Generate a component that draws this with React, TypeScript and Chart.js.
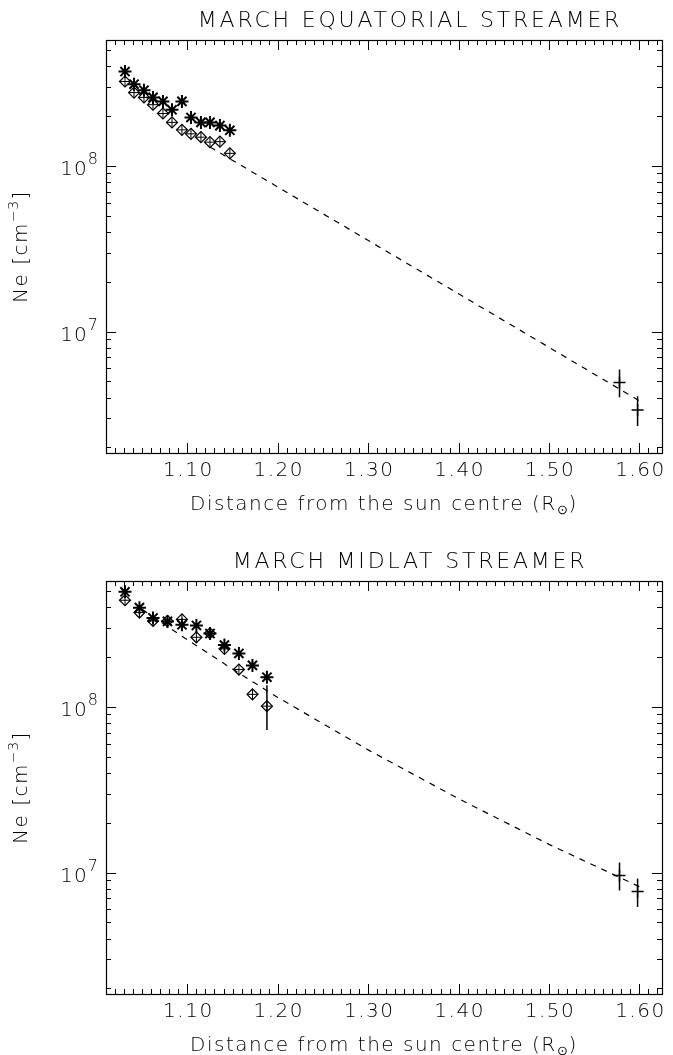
import React, { useEffect, useRef } from "react";
import { Chart, registerables } from "chart.js";
Chart.register(...registerables);

// ---------- shared axis definitions ----------
const X_MIN = 1.01;
const X_MAX = 1.625;
const Y_MIN = 1.85e6;
const Y_MAX = 5.75e8;
const X_TICK_VALUES = [1.1, 1.2, 1.3, 1.4, 1.5, 1.6];
const X_TICK_LABELS = ["1.10", "1.20", "1.30", "1.40", "1.50", "1.60"];
const Y_TICK_VALUES = [1e7, 1e8];
const Y_TICK_EXPONENTS = ["7", "8"];

// ---------- top panel: March equatorial streamer ----------
const eqX = [1.031, 1.041, 1.052, 1.062, 1.073, 1.083, 1.094, 1.104, 1.115, 1.125, 1.136, 1.147];
const eqStarY = [3.71e8, 3.11e8, 2.86e8, 2.59e8, 2.45e8, 2.18e8, 2.45e8, 1.96e8, 1.83e8, 1.83e8, 1.75e8, 1.64e8];
const eqDiamondY = [3.23e8, 2.77e8, 2.59e8, 2.34e8, 2.07e8, 1.83e8, 1.65e8, 1.56e8, 1.49e8, 1.39e8, 1.4e8, 1.19e8];
const eqFitX = [1.125, 1.4, 1.6];
const eqFitY = [1.3e8, 1.69e7, 3.82e6];
const eqCrossX = [1.578, 1.598];
const eqCrossY = [4.93e6, 3.36e6];
const eqCrossLo = [4.01e6, 2.69e6];
const eqCrossHi = [5.9e6, 4.07e6];

// ---------- bottom panel: March midlatitude streamer ----------
const mlX = [1.031, 1.047, 1.062, 1.078, 1.094, 1.11, 1.125, 1.141, 1.157, 1.172, 1.188];
const mlStarY = [4.95e8, 3.97e8, 3.44e8, 3.28e8, 3.13e8, 3.1e8, 2.77e8, 2.36e8, 2.1e8, 1.78e8, 1.51e8];
const mlDiamondY = [4.4e8, 3.71e8, 3.3e8, 3.3e8, 3.37e8, 2.63e8, 2.78e8, 2.24e8, 1.68e8, 1.19e8, 1.01e8];
const mlDiamondErrX = [1.188];
const mlDiamondErrLo = [7.25e7];
const mlDiamondErrHi = [1.35e8];
const mlFitX = [1.05, 1.1, 1.15, 1.2, 1.3, 1.4, 1.5, 1.6];
const mlFitY = [3.88e8, 2.54e8, 1.69e8, 1.14e8, 5.5e7, 2.79e7, 1.48e7, 8.22e6];
const mlCrossX = [1.578, 1.598];
const mlCrossY = [9.6e6, 7.7e6];
const mlCrossLo = [7.8e6, 6.2e6];
const mlCrossHi = [1.15e7, 9.2e6];

const FONT = '"DejaVu Sans"';
const W = 200;

const pts = (xs: number[], ys: number[]) => xs.map((x, i) => ({ x, y: ys[i] }));

function errorBars(xs: number[], lo: number[], hi: number[]) {
  return xs.map((x, i) => ({
    data: [
      { x, y: lo[i] },
      { x, y: hi[i] },
    ],
    showLine: true,
    pointRadius: 0,
    borderColor: "#000",
    borderWidth: 1.5,
  }));
}

function setFont(ctx: any, size: number, spacing: number) {
  ctx.font = `${W} ${size}px ${FONT}`;
  ctx.letterSpacing = `${spacing}px`;
}

const framePlugin = {
  id: "idlFrame",
  afterDraw(chart: any, _args: any, opts: any) {
    const { ctx, chartArea: a } = chart;
    const xs = chart.scales.x;
    const ys = chart.scales.y;
    ctx.save();
    ctx.strokeStyle = "#000";
    ctx.lineWidth = 1.2;
    ctx.strokeRect(a.left + 0.5, a.top + 0.5, a.right - a.left, a.bottom - a.top);
    ctx.lineWidth = 1;
    ctx.beginPath();
    // x ticks (minor every 0.01)
    for (let i = 101; i <= 162; i++) {
      const v = i / 100;
      if (v < X_MIN || v > X_MAX) continue;
      const px = Math.round(xs.getPixelForValue(v)) + 0.5;
      const len = i % 10 === 0 ? 10 : 5;
      ctx.moveTo(px, a.bottom);
      ctx.lineTo(px, a.bottom - len);
      ctx.moveTo(px, a.top);
      ctx.lineTo(px, a.top + len);
    }
    // y ticks (log)
    for (let d = 6; d <= 8; d++) {
      for (let m = 1; m <= 9; m++) {
        const v = m * Math.pow(10, d);
        if (v < Y_MIN || v > Y_MAX) continue;
        const py = Math.round(ys.getPixelForValue(v)) + 0.5;
        const len = m === 1 ? 10 : 5;
        ctx.moveTo(a.left, py);
        ctx.lineTo(a.left + len, py);
        ctx.moveTo(a.right, py);
        ctx.lineTo(a.right - len, py);
      }
    }
    ctx.stroke();

    ctx.fillStyle = "#000";
    // x tick labels
    setFont(ctx, 20, 1.5);
    ctx.textAlign = "center";
    ctx.textBaseline = "middle";
    X_TICK_VALUES.forEach((v, i) => {
      ctx.fillText(X_TICK_LABELS[i], xs.getPixelForValue(v) + 1, a.bottom + 18);
    });
    // y tick labels 10^n
    Y_TICK_VALUES.forEach((v, i) => {
      const py = ys.getPixelForValue(v);
      ctx.textBaseline = "alphabetic";
      ctx.textAlign = "right";
      setFont(ctx, 16, 0);
      const ew = ctx.measureText(Y_TICK_EXPONENTS[i]).width;
      const right = a.left - 8;
      ctx.fillText(Y_TICK_EXPONENTS[i], right, py - 2);
      setFont(ctx, 20, 1);
      ctx.fillText("10", right - ew, py + 9);
    });
    // x title with subscript
    {
      const cy = a.bottom + 50;
      ctx.textBaseline = "alphabetic";
      ctx.textAlign = "left";
      const p1 = "Distance from the sun centre (R";
      const p2 = "\u2299";
      const p3 = ")";
      setFont(ctx, 20, 1.5);
      const w1 = ctx.measureText(p1).width;
      const w3 = ctx.measureText(p3).width;
      setFont(ctx, 13, 0);
      const w2 = ctx.measureText(p2).width + 1;
      const total = w1 + w2 + w3;
      const x0 = (a.left + a.right) / 2 - total / 2;
      setFont(ctx, 20, 1.5);
      ctx.fillText(p1, x0, cy + 7);
      setFont(ctx, 13, 0);
      ctx.fillText(p2, x0 + w1, cy + 11);
      setFont(ctx, 20, 1.5);
      ctx.fillText(p3, x0 + w1 + w2, cy + 7);
    }
    // y title rotated with superscript
    {
      ctx.save();
      const cx = 20;
      const cy = (a.top + a.bottom) / 2;
      ctx.translate(cx, cy);
      ctx.rotate(-Math.PI / 2);
      ctx.textBaseline = "alphabetic";
      ctx.textAlign = "left";
      const p1 = "Ne [cm";
      const p2 = "\u22123";
      const p3 = "]";
      setFont(ctx, 20, 1.5);
      const w1 = ctx.measureText(p1).width;
      const w3 = ctx.measureText(p3).width;
      setFont(ctx, 14, 0.5);
      const w2 = ctx.measureText(p2).width + 1;
      const x0 = -(w1 + w2 + w3) / 2;
      setFont(ctx, 20, 1.5);
      ctx.fillText(p1, x0, 7);
      setFont(ctx, 14, 0.5);
      ctx.fillText(p2, x0 + w1, -2);
      setFont(ctx, 20, 1.5);
      ctx.fillText(p3, x0 + w1 + w2, 7);
      ctx.restore();
    }
    // main title
    setFont(ctx, 22, 2.8);
    ctx.textAlign = "center";
    ctx.textBaseline = "alphabetic";
    ctx.fillText(opts.title, opts.titleX, 27);
    ctx.restore();
  },
};

type PanelCfg = {
  title: string;
  xs: number[];
  starY: number[];
  diamondY: number[];
  fitX: number[];
  fitY: number[];
  crossX: number[];
  crossY: number[];
  crossLo: number[];
  crossHi: number[];
  extraErrX?: number[];
  extraErrLo?: number[];
  extraErrHi?: number[];
  height: number;
  padBottom: number;
};

function Panel({ cfg }: { cfg: PanelCfg }) {
  const ref = useRef<HTMLCanvasElement>(null);
  useEffect(() => {
    const datasets: any[] = [
      {
        data: pts(cfg.xs, cfg.starY),
        pointStyle: "star",
        pointRadius: 6.5,
        borderWidth: 2,
        borderColor: "#000",
        backgroundColor: "#000",
        showLine: false,
      },
      {
        data: pts(cfg.xs, cfg.diamondY),
        pointStyle: "rectRot",
        pointRadius: 5.5,
        borderWidth: 1.2,
        borderColor: "#000",
        backgroundColor: "rgba(0,0,0,0)",
        showLine: false,
      },
      {
        data: pts(cfg.xs, cfg.diamondY),
        pointStyle: "cross",
        pointRadius: 5.5,
        borderWidth: 1,
        borderColor: "#000",
        showLine: false,
      },
      {
        data: pts(cfg.fitX, cfg.fitY),
        showLine: true,
        pointRadius: 0,
        borderColor: "#000",
        borderWidth: 1.2,
        borderDash: [6, 6],
        tension: 0,
      },
      {
        data: pts(cfg.crossX, cfg.crossY),
        pointStyle: "cross",
        pointRadius: 6,
        borderWidth: 1.5,
        borderColor: "#000",
        showLine: false,
      },
      ...errorBars(cfg.crossX, cfg.crossLo, cfg.crossHi),
      ...(cfg.extraErrX ? errorBars(cfg.extraErrX, cfg.extraErrLo!, cfg.extraErrHi!) : []),
    ];
    const chart = new Chart(ref.current!, {
      type: "scatter",
      data: { datasets },
      options: {
        animation: false,
        responsive: false,
        devicePixelRatio: 1,
        layout: { padding: { left: 106, right: 11, top: 40, bottom: cfg.padBottom } },
        scales: {
          x: { type: "linear", min: X_MIN, max: X_MAX, display: false },
          y: { type: "logarithmic", min: Y_MIN, max: Y_MAX, display: false },
        },
        plugins: {
          legend: { display: false },
          tooltip: { enabled: false },
          title: { display: false },
          idlFrame: { title: cfg.title, titleX: 410 },
        } as any,
      },
      plugins: [framePlugin as any],
    } as any);
    return () => chart.destroy();
  }, []);
  return <canvas ref={ref} width={673} height={cfg.height} style={{ display: "block" }} />;
}

const topCfg: PanelCfg = {
  title: "MARCH EQUATORIAL STREAMER",
  xs: eqX,
  starY: eqStarY,
  diamondY: eqDiamondY,
  fitX: eqFitX,
  fitY: eqFitY,
  crossX: eqCrossX,
  crossY: eqCrossY,
  crossLo: eqCrossLo,
  crossHi: eqCrossHi,
  height: 541,
  padBottom: 88,
};

const bottomCfg: PanelCfg = {
  title: "MARCH MIDLAT STREAMER",
  xs: mlX,
  starY: mlStarY,
  diamondY: mlDiamondY,
  fitX: mlFitX,
  fitY: mlFitY,
  crossX: mlCrossX,
  crossY: mlCrossY,
  crossLo: mlCrossLo,
  crossHi: mlCrossHi,
  extraErrX: mlDiamondErrX,
  extraErrLo: mlDiamondErrLo,
  extraErrHi: mlDiamondErrHi,
  height: 514,
  padBottom: 61,
};

export default function App() {
  return (
    <div style={{ position: "absolute", left: 0, top: 0, width: 673, height: 1055, background: "#fff", overflow: "hidden" }}>
      <div style={{ position: "absolute", left: 0, top: 0 }}>
        <Panel cfg={topCfg} />
      </div>
      <div style={{ position: "absolute", left: 0, top: 541 }}>
        <Panel cfg={bottomCfg} />
      </div>
    </div>
  );
}
